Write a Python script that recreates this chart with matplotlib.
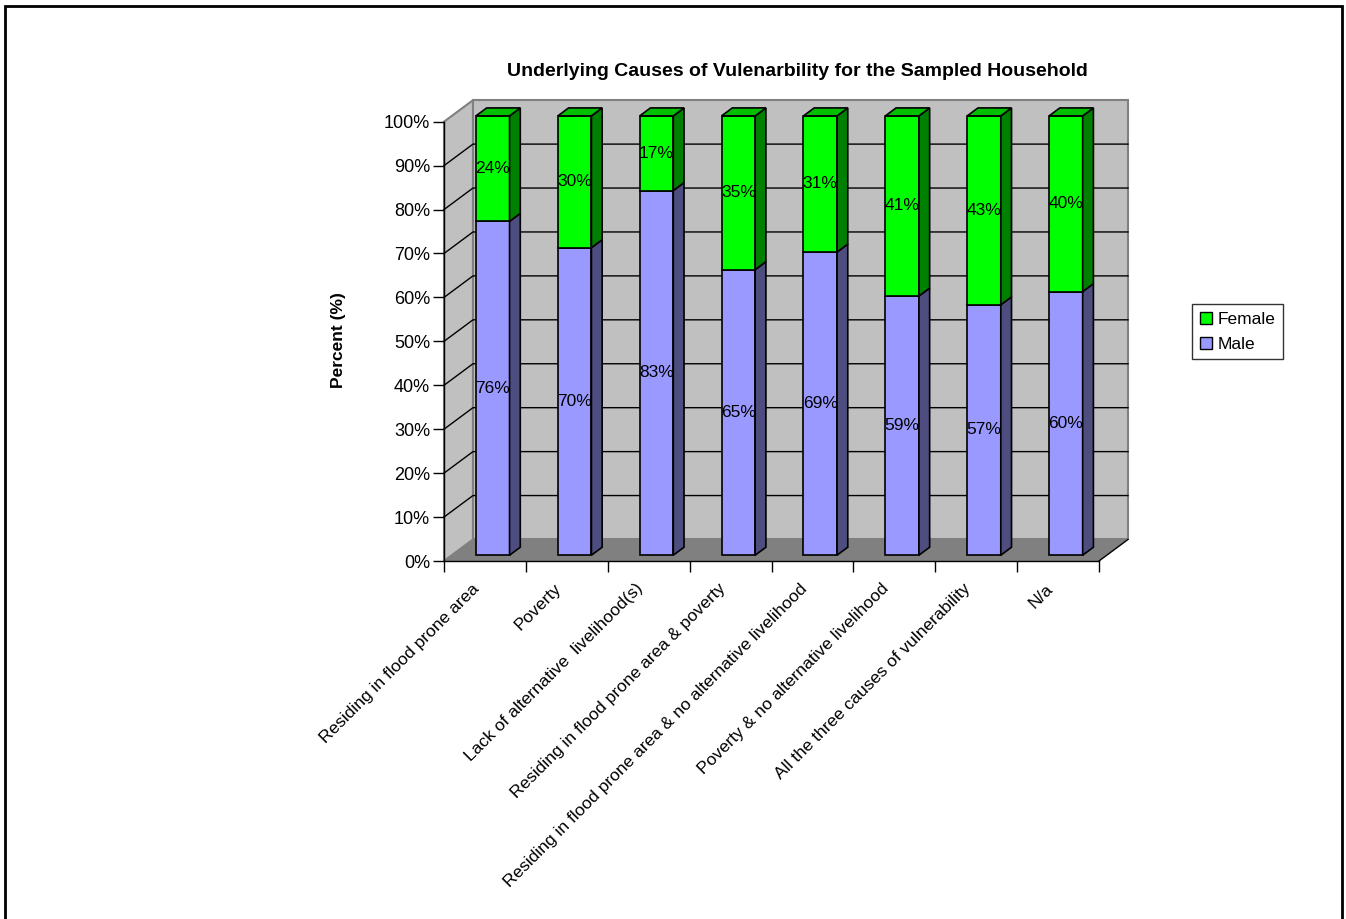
import numpy as np
import matplotlib.pyplot as plt
from matplotlib.patches import Polygon, Patch, Rectangle
from matplotlib.transforms import ScaledTranslation

# ---- data ----
causes = [
    "Residing in flood prone area",
    "Poverty",
    "Lack of alternative  livelihood(s)",
    "Residing in flood prone area & poverty",
    "Residing in flood prone area & no alternative livelihood",
    "Poverty & no alternative livelihood",
    "All the three causes of vulnerability",
    "N/a",
]
male = np.array([76, 70, 83, 65, 69, 59, 57, 60])
female = np.array([24, 30, 17, 35, 31, 41, 43, 40])
pct_ticks = np.arange(0, 101, 10)

plt.rcParams['font.family'] = ['Liberation Sans', 'DejaVu Sans']

W_PX, H_PX = 1346, 919
fig = plt.figure(figsize=(W_PX / 100, H_PX / 100), dpi=100)
ax = fig.add_axes([444 / W_PX, 1 - 561 / H_PX, 655 / W_PX, 439.3 / H_PX])
n = len(causes)
ax.set_xlim(0, n)
ax.set_ylim(0, 100)
ax.patch.set_visible(False)
for s in ['top', 'right']:
    ax.spines[s].set_visible(False)
for s in ['left', 'bottom']:
    ax.spines[s].set_linewidth(1)
    ax.spines[s].set_zorder(6)

# depth of the 3d box (data units)
DX, DY = 0.354, 4.9


def poly(pts, fc, ec, lw=1.0, z=1):
    ax.add_patch(Polygon(pts, closed=True, facecolor=fc, edgecolor=ec, lw=lw,
                         zorder=z, clip_on=False, joinstyle='miter'))


# walls and floor
poly([(0, 0), (DX, DY), (DX, 100 + DY), (0, 100)], '#c0c0c0', '#808080', 1.5, 0)
poly([(DX, DY), (n + DX, DY), (n + DX, 100 + DY), (DX, 100 + DY)], '#c0c0c0', '#808080', 1.5, 0)
poly([(0, 0), (n, 0), (n + DX, DY), (DX, DY)], '#808080', 'none', 0, 0.5)
ax.plot([n, n + DX], [0, DY], color='black', lw=1, clip_on=False, zorder=1)
for v in pct_ticks[1:-1]:
    ax.plot([0, DX, n + DX], [v, v + DY, v + DY], color='black', lw=1,
            clip_on=False, zorder=0.8)

# stacked 3d columns
F0, F1, BW = 0.27, 0.64, 0.41
ox, oy = (F1 - F0) * DX, (F1 - F0) * DY
base = F0 * DY
for i in range(n):
    x0 = i + 0.5 - BW / 2 + F0 * DX
    x1 = x0 + BW
    segs = [(0, male[i], '#9999ff', '#4d4d80'),
            (male[i], male[i] + female[i], '#00ff00', '#008000')]
    for lo, hi, face, side in segs:
        poly([(x0, lo + base), (x1, lo + base), (x1, hi + base), (x0, hi + base)],
             face, 'black', 1.2, 3)
        poly([(x1, lo + base), (x1 + ox, lo + base + oy), (x1 + ox, hi + base + oy),
              (x1, hi + base)], side, 'black', 1.2, 3)
        ax.text(i + 0.5 + F0 * DX, (lo + hi) / 2 + base, f'{hi - lo}%',
                ha='center', va='center', fontsize=12.5, zorder=5)
    top = male[i] + female[i] + base
    poly([(x0, top), (x1, top), (x1 + ox, top + oy), (x0 + ox, top + oy)],
         '#00c000', 'black', 1.2, 3)

# axes ticks
ax.set_yticks(pct_ticks)
ax.set_yticklabels([f'{v}%' for v in pct_ticks])
ax.tick_params(axis='y', direction='out', length=8, width=1, labelsize=13, pad=2)
ax.set_xticks(np.arange(n + 1), minor=True)
ax.set_xticks(np.arange(n) + 0.5)
ax.set_xticklabels([])
ax.tick_params(axis='x', which='major', length=0)
ax.tick_params(axis='x', which='minor', direction='out', length=8, width=1)

lab_tr = ax.get_xaxis_transform() + ScaledTranslation(-13 / 100, -20 / 100, fig.dpi_scale_trans)
for i, name in enumerate(causes):
    ax.text(i + 0.5, 0, name, transform=lab_tr, rotation=45, rotation_mode='anchor',
            ha='right', va='top', fontsize=12.5)

fig.text(797 / W_PX, 1 - 72 / H_PX,
         'Underlying Causes of Vulenarbility for the Sampled Household',
         ha='center', va='center', fontsize=14, fontweight='bold')
fig.text(338 / W_PX, 1 - 340 / H_PX, 'Percent (%)', rotation=90,
         ha='center', va='center', fontsize=12.5, fontweight='bold')

handles = [Patch(facecolor='#00ff00', edgecolor='black', label='Female'),
           Patch(facecolor='#9999ff', edgecolor='black', label='Male')]
leg = fig.legend(handles=handles, loc='upper left',
                 bbox_to_anchor=(1192 / W_PX, 1 - 304 / H_PX),
                 frameon=True, fancybox=False, edgecolor='black', fontsize=12.5,
                 handlelength=0.7, handleheight=0.7, handletextpad=0.3,
                 borderpad=0.45, labelspacing=0.55, borderaxespad=0)
leg.get_frame().set_linewidth(1)

# outer chart border
fig.add_artist(Rectangle((5 / W_PX, -0.02), 1337 / W_PX, 1.02 - 6 / H_PX,
                         transform=fig.transFigure, fill=False, lw=2, ec='black'))

fig.savefig('out.png', dpi=100)
